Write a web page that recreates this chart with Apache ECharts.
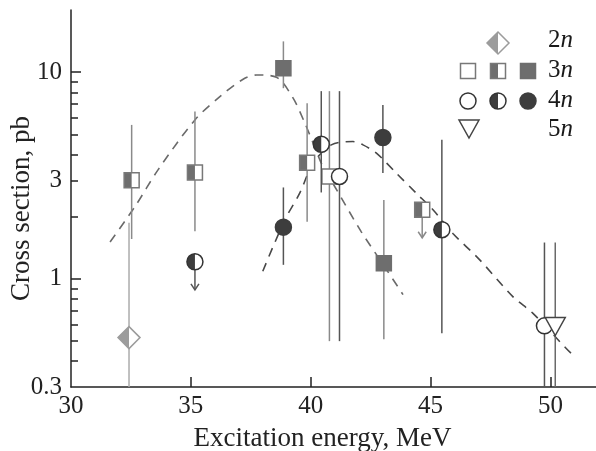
<!DOCTYPE html>
<html>
<head>
<meta charset="utf-8">
<script src="https://cdn.jsdelivr.net/npm/echarts@6/dist/echarts.min.js"></script>
<style>
html, body { margin: 0; padding: 0; background: #fff; }
#chart { width: 596px; height: 451px; }
</style>
</head>
<body>
<div id="chart"></div>
<script>
// cross sections (pb) vs excitation energy (MeV); null error = upper limit (arrow)
const energy2n = [32.42];
const sigma2n = [0.52];
const hi2n = [1.87];
const lo2n = [0.3];
const fill2n = ['half'];

const energy3n = [32.53, 35.17, 38.86, 39.85, 40.78, 43.05, 44.65];
const sigma3n = [3.0, 3.27, 10.45, 3.65, 3.13, 1.19, 2.16];
const hi3n = [5.56, 6.45, 14.1, 7.08, 8.1, 2.41, null];
const lo3n = [1.56, 1.70, 8.37, 1.89, 0.5, 0.51, null];
const fill3n = ['half', 'half', 'full', 'half', 'open', 'full', 'half'];

const energy4n = [35.17, 38.86, 40.44, 41.2, 43.01, 45.47, 49.75];
const sigma4n = [1.21, 1.78, 4.48, 3.13, 4.83, 1.73, 0.593];
const hi4n = [null, 2.77, 8.1, 8.1, 6.95, 4.71, 1.5];
const lo4n = [null, 1.17, 2.62, 0.5, 3.25, 0.546, 0.3];
const fill4n = ['half', 'full', 'half', 'open', 'full', 'half', 'open'];

const energy5n = [50.2];
const sigma5n = [0.595];
const hi5n = [1.5];
const lo5n = [0.3];
const fill5n = ['open'];

// dashed fit curves [energy, sigma]
const fit3n = [[31.63, 1.51], [32.67, 2.24], [33.63, 3.37], [35.17, 5.88], [36.21, 7.62], [37.18, 9.25],
  [37.74, 9.70], [38.57, 9.46], [39.26, 7.51], [39.75, 5.69], [40.1, 4.54], [40.51, 3.49], [41.0, 2.80],
  [42.11, 1.69], [43.05, 1.16], [43.85, 0.84]];
const fit4n = [[38.0, 1.09], [38.92, 1.93], [39.54, 2.60], [40.1, 3.63], [40.86, 4.45], [41.76, 4.62],
  [42.18, 4.45], [42.74, 4.06], [43.57, 3.25], [44.4, 2.60], [45.1, 2.16], [45.93, 1.66], [47.04, 1.24],
  [48.43, 0.821], [49.26, 0.683], [50.65, 0.462], [50.92, 0.43]];

const xLabels = [30, 35, 40, 45, 50];
const xTicks = [35, 40, 45, 50];
const yLabels = [0.3, 1, 3, 10];
const yMajorTicks = [1, 10];
const yMinorTicks = [0.4, 0.5, 0.6, 0.7, 0.8, 0.9, 2, 3, 4, 5, 6, 7, 8, 9];

const legendRows = ['2', '3', '4', '5'];

const FONT = 'Liberation Serif';
const lg = v => Math.log10(v);

const col2n = { fill: '#9c9c9c', edge: '#9c9c9c', bar: '#ababab' };
const col3n = { fill: '#6e6e6e', edge: '#787878', bar: '#8a8a8a' };
const col4n = { fill: '#3d3d3d', edge: '#333333', bar: '#555555' };
const col5n = { fill: '#ffffff', edge: '#444444', bar: '#6a6a6a' };

function drawMarker(shape, fill, x, y, col) {
    const out = [];
    const lw = 1.5;
    if (shape === 'square') {
        const s = 7.5;
        if (fill === 'full') {
            out.push({ type: 'rect', shape: { x: x - s, y: y - s, width: 2 * s, height: 2 * s }, style: { fill: col.fill, stroke: col.fill, lineWidth: lw } });
        } else {
            out.push({ type: 'rect', shape: { x: x - s, y: y - s, width: 2 * s, height: 2 * s }, style: { fill: '#fff', stroke: null } });
            if (fill === 'half') {
                out.push({ type: 'rect', shape: { x: x - s, y: y - s, width: s, height: 2 * s }, style: { fill: col.fill } });
            }
            out.push({ type: 'rect', shape: { x: x - s, y: y - s, width: 2 * s, height: 2 * s }, style: { fill: null, stroke: col.edge, lineWidth: lw } });
        }
    } else if (shape === 'circle') {
        const r = 8;
        if (fill === 'full') {
            out.push({ type: 'circle', shape: { cx: x, cy: y, r: r }, style: { fill: col.fill, stroke: col.fill, lineWidth: lw } });
        } else {
            out.push({ type: 'circle', shape: { cx: x, cy: y, r: r }, style: { fill: '#fff', stroke: null } });
            if (fill === 'half') {
                out.push({ type: 'sector', shape: { cx: x, cy: y, r0: 0, r: r, startAngle: Math.PI / 2, endAngle: Math.PI * 1.5, clockwise: true }, style: { fill: col.fill } });
            }
            out.push({ type: 'circle', shape: { cx: x, cy: y, r: r }, style: { fill: null, stroke: col.edge, lineWidth: lw } });
        }
    } else if (shape === 'diamond') {
        const r = 11;
        out.push({ type: 'polygon', shape: { points: [[x, y - r], [x + r, y], [x, y + r], [x - r, y]] }, style: { fill: '#fff', stroke: null } });
        out.push({ type: 'polygon', shape: { points: [[x, y - r], [x, y + r], [x - r, y]] }, style: { fill: col.fill } });
        out.push({ type: 'polygon', shape: { points: [[x, y - r], [x + r, y], [x, y + r], [x - r, y]] }, style: { fill: null, stroke: col.edge, lineWidth: lw } });
    } else if (shape === 'triangle') {
        out.push({ type: 'polygon', shape: { points: [[x - 10, y - 8], [x + 10, y - 8], [x, y + 10]] }, style: { fill: '#fff', stroke: col.edge, lineWidth: lw } });
    }
    return out;
}

function makeRender(energies, sigmas, his, los, fills, shape, col) {
    return function (params, api) {
        const i = params.dataIndex;
        const p = api.coord([energies[i], lg(sigmas[i])]);
        const children = [];
        const barStyle = { stroke: col.bar, lineWidth: 1.5, fill: null };
        if (his[i] != null) {
            const top = api.coord([energies[i], lg(his[i])]);
            const bot = api.coord([energies[i], lg(los[i])]);
            children.push({ type: 'line', shape: { x1: p[0], y1: top[1], x2: p[0], y2: bot[1] }, style: barStyle });
        } else {
            const tip = p[1] + 28;
            children.push({ type: 'line', shape: { x1: p[0], y1: p[1], x2: p[0], y2: tip }, style: barStyle });
            children.push({ type: 'polyline', shape: { points: [[p[0] - 4, tip - 6], [p[0], tip], [p[0] + 4, tip - 6]] }, style: barStyle });
        }
        return { type: 'group', children: children.concat(drawMarker(shape, fills[i], p[0], p[1], col)) };
    };
}

function pointSeries(name, energies, sigmas, his, los, fills, shape, col) {
    return {
        name: name,
        type: 'custom',
        z: 5,
        data: energies.map((e, i) => [e, lg(sigmas[i])]),
        encode: { x: 0, y: 1 },
        renderItem: makeRender(energies, sigmas, his, los, fills, shape, col)
    };
}

function fitSeries(data, color) {
    return {
        type: 'line',
        z: 2,
        smooth: 0.3,
        showSymbol: false,
        symbol: 'none',
        data: data.map(p => [p[0], lg(p[1])]),
        lineStyle: { color: color, width: 1.6, type: [9, 7] }
    };
}

// legend drawn as graphics
const legendGraphics = [];
legendGraphics.push({ type: 'group', children: drawMarker('diamond', 'half', 498, 43, col2n) });
legendGraphics.push({ type: 'group', children: drawMarker('square', 'open', 468, 71, col3n) });
legendGraphics.push({ type: 'group', children: drawMarker('square', 'half', 498, 71, col3n) });
legendGraphics.push({ type: 'group', children: drawMarker('square', 'full', 528, 71, col3n) });
legendGraphics.push({ type: 'group', children: drawMarker('circle', 'open', 468, 101, col4n) });
legendGraphics.push({ type: 'group', children: drawMarker('circle', 'half', 498, 101, col4n) });
legendGraphics.push({ type: 'group', children: drawMarker('circle', 'full', 528, 101, col4n) });
legendGraphics.push({ type: 'group', children: drawMarker('triangle', 'open', 469, 128, col5n) });
const legendY = [40.5, 70.5, 100.5, 129];
legendRows.forEach((d, i) => {
    legendGraphics.push({
        type: 'text',
        x: 548,
        y: legendY[i],
        style: {
            text: '{d|' + d + '}{n|n}',
            verticalAlign: 'middle',
            fill: '#1a1a1a',
            rich: {
                d: { font: '25px "' + FONT + '"', fill: '#1a1a1a' },
                n: { font: 'italic 25px "' + FONT + '"', fill: '#1a1a1a' }
            }
        }
    });
});

const axisColor = '#222';
const chart = echarts.init(document.getElementById('chart'), null, { renderer: 'canvas' });
chart.setOption({
    animation: false,
    backgroundColor: '#fff',
    grid: { left: 71, right: 0, top: 10, bottom: 64, containLabel: false, outerBoundsMode: 'none' },
    xAxis: {
        type: 'value',
        min: 30,
        max: 51.9,
        axisLine: { onZero: false, lineStyle: { color: axisColor, width: 1.5 } },
        axisTick: { inside: true, length: 10, customValues: xTicks, lineStyle: { color: axisColor, width: 1.5 } },
        axisLabel: { customValues: xLabels, fontSize: 25, fontFamily: FONT, color: axisColor, margin: 7 },
        splitLine: { show: false },
        name: 'Excitation energy, MeV',
        nameLocation: 'middle',
        nameGap: 38,
        nameMoveOverlap: false,
        nameTextStyle: { fontSize: 27, fontFamily: FONT, color: axisColor, padding: [0, 22, 0, 0] }
    },
    yAxis: [{
        type: 'value',
        min: lg(0.3),
        max: lg(20),
        axisLine: { show: true, onZero: false, lineStyle: { color: axisColor, width: 1.5 } },
        axisTick: { show: true, inside: true, length: 10, customValues: yMajorTicks.map(lg), lineStyle: { color: axisColor, width: 1.5 } },
        axisLabel: {
            customValues: yLabels.map(lg),
            formatter: v => String(+Math.pow(10, v).toPrecision(1)),
            fontSize: 25, fontFamily: FONT, color: axisColor, margin: 9
        },
        splitLine: { show: false },
        name: 'Cross section, pb',
        nameLocation: 'middle',
        nameRotate: 90,
        nameGap: 36,
        nameMoveOverlap: false,
        nameTextStyle: { fontSize: 27, fontFamily: FONT, color: axisColor, padding: [0, 20, 0, 0] }
    }, {
        type: 'value',
        min: lg(0.3),
        max: lg(20),
        position: 'left',
        axisLine: { show: false, onZero: false },
        axisTick: { show: true, inside: true, length: 7, customValues: yMinorTicks.map(lg), lineStyle: { color: axisColor, width: 1.5 } },
        axisLabel: { show: false },
        splitLine: { show: false }
    }],
    graphic: legendGraphics,
    series: [
        fitSeries(fit3n, '#6a6a6a'),
        fitSeries(fit4n, '#484848'),
        pointSeries('2n', energy2n, sigma2n, hi2n, lo2n, fill2n, 'diamond', col2n),
        pointSeries('3n', energy3n, sigma3n, hi3n, lo3n, fill3n, 'square', col3n),
        pointSeries('4n', energy4n, sigma4n, hi4n, lo4n, fill4n, 'circle', col4n),
        pointSeries('5n', energy5n, sigma5n, hi5n, lo5n, fill5n, 'triangle', col5n)
    ]
});
</script>
</body>
</html>
